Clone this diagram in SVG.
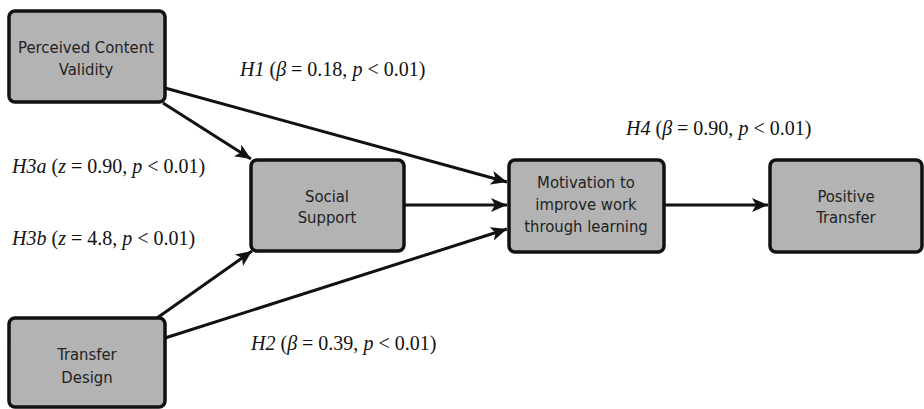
<svg xmlns="http://www.w3.org/2000/svg" width="924" height="409" viewBox="0 0 924 409">
<style>
.box{fill:#b3b3b3;stroke:#111;stroke-width:3.5}
.nt{font-family:"DejaVu Sans Condensed","DejaVu Sans",sans-serif;font-size:16.5px;fill:#222;text-anchor:middle}
.lb{font-family:"Liberation Serif","Times New Roman",serif;font-size:20px;fill:#111}
.c{stroke:#111;stroke-width:3;fill:none;marker-end:url(#ah)}
</style>
<defs>
<marker id="ah" markerUnits="userSpaceOnUse" markerWidth="18" markerHeight="14" refX="16" refY="7" orient="auto">
<path d="M0,0 L16,7 L0,14 L4,7 z" fill="#111"/>
</marker>
</defs>
<rect width="924" height="409" fill="#fff"/>
<g id="connectors">
<line class="c" x1="165" y1="88" x2="507" y2="182"/>
<line class="c" x1="163" y1="103" x2="251" y2="159"/>
<line class="c" x1="404" y1="205" x2="507" y2="205"/>
<line class="c" x1="157" y1="318" x2="252" y2="251"/>
<line class="c" x1="165" y1="338" x2="507" y2="229"/>
<line class="c" x1="664" y1="205" x2="768" y2="205"/>
</g>
<g id="pcv">
<rect class="box" x="9" y="11" width="156" height="91" rx="6"/>
<text class="nt" x="86" y="53">Perceived Content</text>
<text class="nt" x="86" y="75">Validity</text>
</g>
<g id="ss">
<rect class="box" x="251" y="160" width="153" height="91" rx="6"/>
<text class="nt" x="327" y="202">Social</text>
<text class="nt" x="327" y="223">Support</text>
</g>
<g id="mot">
<rect class="box" x="509" y="160" width="155" height="92" rx="6"/>
<text class="nt" x="586" y="188">Motivation to</text>
<text class="nt" x="586" y="210">improve work</text>
<text class="nt" x="586" y="232">through learning</text>
</g>
<g id="pt">
<rect class="box" x="770" y="160" width="152" height="92" rx="6"/>
<text class="nt" x="846" y="202">Positive</text>
<text class="nt" x="846" y="223">Transfer</text>
</g>
<g id="td">
<rect class="box" x="9" y="318" width="156" height="89" rx="6"/>
<text class="nt" x="87" y="360">Transfer</text>
<text class="nt" x="87" y="383">Design</text>
</g>
<g id="labels">
<text class="lb" x="240" y="76"><tspan font-style="italic">H1</tspan> (<tspan font-style="italic">β</tspan> = 0.18, <tspan font-style="italic">p</tspan> &lt; 0.01)</text>
<text class="lb" x="626" y="135"><tspan font-style="italic">H4</tspan> (<tspan font-style="italic">β</tspan> = 0.90, <tspan font-style="italic">p</tspan> &lt; 0.01)</text>
<text class="lb" x="12" y="173"><tspan font-style="italic">H3a</tspan> (<tspan font-style="italic">z</tspan> = 0.90, <tspan font-style="italic">p</tspan> &lt; 0.01)</text>
<text class="lb" x="12" y="245"><tspan font-style="italic">H3b</tspan> (<tspan font-style="italic">z</tspan> = 4.8, <tspan font-style="italic">p</tspan> &lt; 0.01)</text>
<text class="lb" x="251" y="350"><tspan font-style="italic">H2</tspan> (<tspan font-style="italic">β</tspan> = 0.39, <tspan font-style="italic">p</tspan> &lt; 0.01)</text>
</g>
</svg>
